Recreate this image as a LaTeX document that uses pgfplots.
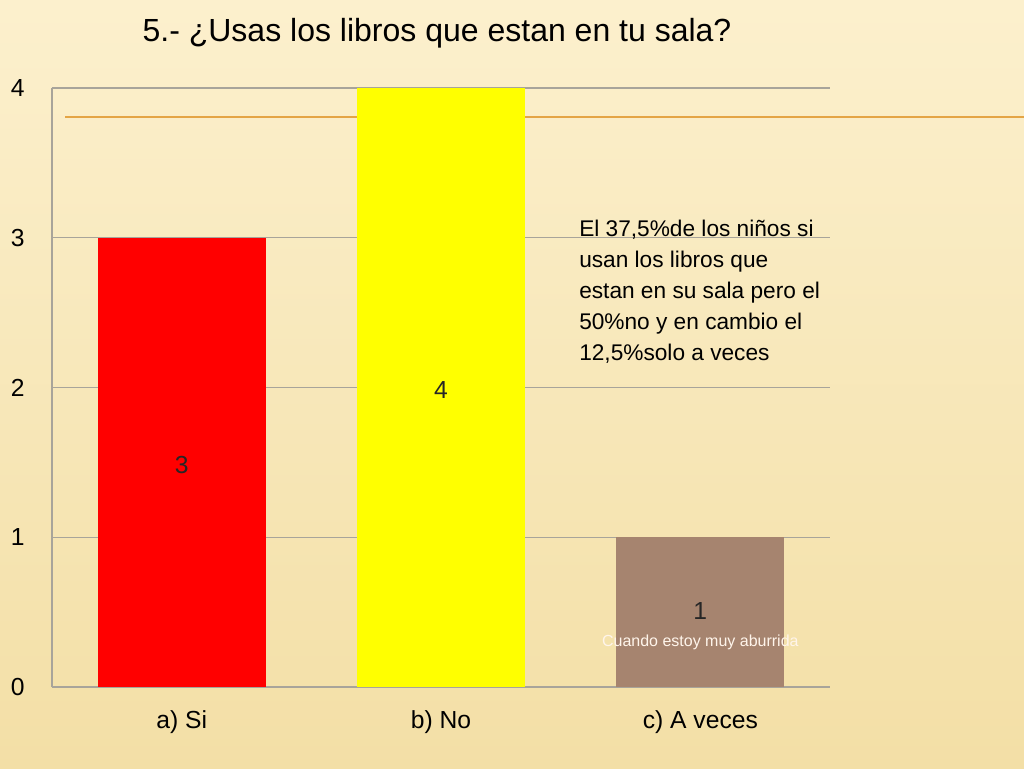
\documentclass[border=0pt]{standalone}
\usepackage{pgfplots}
\pgfplotsset{compat=1.18}
\usepackage{fontspec}
\setmainfont{Liberation Sans}
\definecolor{bgtop}{HTML}{FCF0CD}
\definecolor{bgbot}{HTML}{F3DFA6}
\definecolor{barred}{HTML}{FF0000}
\definecolor{baryellow}{HTML}{FFFF00}
\definecolor{barbrown}{HTML}{A6846F}
\definecolor{orangeline}{HTML}{E4A545}
\definecolor{gridgray}{HTML}{A8A49A}
\begin{document}
\begin{tikzpicture}
\useasboundingbox (0,0) rectangle (768pt,576pt);
\shade[top color=bgtop, bottom color=bgbot] (0,0) rectangle (768pt,576pt);
\draw[orangeline, line width=1.5pt] (48.75pt,488.25pt) -- (768pt,488.25pt);
\node[font=\fontsize{24}{29}\selectfont] at (327.75pt,551.25pt) {5.- ¿Usas los libros que estan en tu sala?};
\begin{axis}[
  at={(39pt,60.75pt)}, anchor=south west,
  scale only axis, width=583.5pt, height=449.25pt,
  xmin=-0.5, xmax=2.5, ymin=0, ymax=4,
  ybar, bar width=126pt, bar shift=0pt,
  xtick={0,1,2}, xticklabels={a) Si, b) No, c) A veces},
  ytick={0,1,2,3,4},
  ymajorgrids, grid style={gridgray, line width=0.8pt},
  axis x line*=bottom, axis y line*=left,
  axis line style={gridgray, line width=0.8pt, -},
  major tick length=0pt,
  tick label style={font=\fontsize{18.5}{22}\selectfont, text=black},
  /pgf/number format/assume math mode=true,
  yticklabel style={xshift=-17pt},
  xticklabel style={yshift=-14pt},
  clip=false,
]
\addplot[draw=none, fill=barred] coordinates {(0,3)};
\addplot[draw=none, fill=baryellow] coordinates {(1,4)};
\addplot[draw=none, fill=barbrown] coordinates {(2,1)};
\node[font=\fontsize{18.5}{22}\selectfont, text=black!85] at (axis cs:0,1.48) {3};
\node[font=\fontsize{18.5}{22}\selectfont, text=black!85] at (axis cs:1,1.98) {4};
\node[font=\fontsize{18.5}{22}\selectfont, text=black!85] at (axis cs:2,0.51) {1};
\node[font=\fontsize{12}{14}\selectfont, text=white!92!orange] at (axis cs:2,0.3) {Cuando estoy muy aburrida};
\end{axis}
\node[anchor=north west, inner sep=0pt, align=left, font=\fontsize{17}{23.25}\selectfont] at (434.25pt,411.5pt)
  {El 37,5\%de los niños si\\usan los libros que\\estan en su sala pero el\\50\%no y en cambio el\\12,5\%solo a veces};
\end{tikzpicture}
\end{document}
